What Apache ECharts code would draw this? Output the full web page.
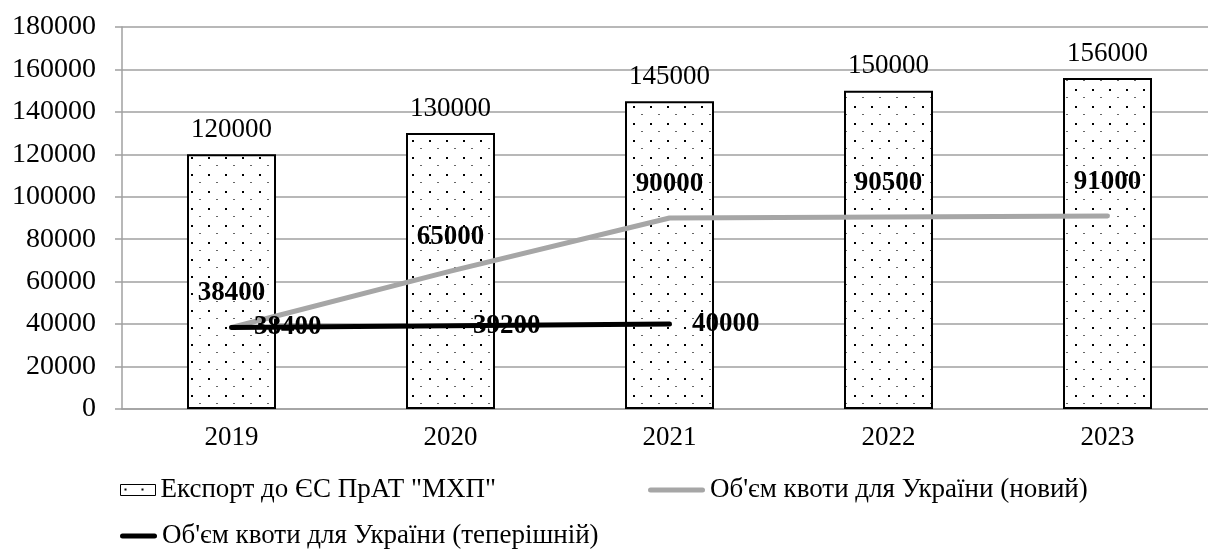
<!DOCTYPE html>
<html>
<head>
<meta charset="utf-8">
<script src="https://cdn.jsdelivr.net/npm/echarts@6/dist/echarts.min.js"></script>
<style>
  html, body { margin: 0; padding: 0; background: #fff; overflow: hidden; }
  /* the plot runs a little past the right edge of the window */
  #chart { width: 1230px; height: 549px; }
</style>
</head>
<body>
<div id="chart"></div>
<script>
// Years on the category axis
const years = ['2019', '2020', '2021', '2022', '2023'];
// Export of MHP to the EU (bars)
const exportEU = [120000, 130000, 145000, 150000, 156000];
// Ukraine quota volume, new proposal (grey line)
const quotaNew = [38400, 65000, 90000, 90500, 91000];
// Ukraine quota volume, current (black line, 2019–2021 only)
const quotaCurrent = [38400, 39200, 40000];
// Value axis
const yMin = 0, yMax = 180000, yStep = 20000;

const seriesNames = [
  'Експорт до ЄС ПрАТ "МХП"',
  "Об'єм квоти для України (новий)",
  "Об'єм квоти для України (теперішній)"
];

const FONT = "'Liberation Serif', 'Times New Roman', serif";
const GRID_GREY = '#a0a0a0';

// Dotted fill used for the bars
function makeDotPattern() {
  const c = document.createElement('canvas');
  c.width = 17; c.height = 17;
  const ctx = c.getContext('2d');
  ctx.fillStyle = '#fff';
  ctx.fillRect(0, 0, 17, 17);
  ctx.fillStyle = '#000';
  ctx.fillRect(4, 4, 2, 2);
  ctx.fillStyle = '#666';
  ctx.fillRect(12, 12, 2, 1);
  return c;
}
const dots = { image: makeDotPattern(), repeat: 'repeat' };

const lineIcon = 'path://M2.5,0 L54.5,0 A2.5,2.5 0 0 1 54.5,5 L2.5,5 A2.5,2.5 0 0 1 2.5,0 Z';
const lineIconShort = 'path://M2.5,0 L34.5,0 A2.5,2.5 0 0 1 34.5,5 L2.5,5 A2.5,2.5 0 0 1 2.5,0 Z';

const legendText = { fontFamily: FONT, fontSize: 27, color: '#000', lineHeight: 30 };

const chart = echarts.init(document.getElementById('chart'), null, { renderer: 'canvas' });
chart.setOption({
  animation: false,
  backgroundColor: '#fff',
  textStyle: { fontFamily: FONT },
  grid: { left: 122, top: 27, width: 1095, height: 382, containLabel: false },
  legend: [
    {
      data: [seriesNames[0]], left: 120, top: 475, padding: 0,
      icon: 'rect', itemWidth: 35, itemHeight: 11,
      itemStyle: { borderColor: '#000', borderWidth: 1 },
      textStyle: legendText
    },
    {
      data: [seriesNames[1]], left: 648, top: 475, padding: 0,
      icon: lineIcon, itemWidth: 57, itemHeight: 5,
      textStyle: legendText
    },
    {
      data: [seriesNames[2]], left: 120, top: 521, padding: 0,
      icon: lineIconShort, itemWidth: 37, itemHeight: 5,
      textStyle: legendText
    }
  ],
  xAxis: {
    type: 'category',
    data: years,
    axisLine: { lineStyle: { color: GRID_GREY, width: 1.5 } },
    axisTick: { length: 6, lineStyle: { color: GRID_GREY, width: 1.5 } },
    axisLabel: { fontFamily: FONT, fontSize: 27, color: '#000', margin: 15 }
  },
  yAxis: {
    type: 'value',
    min: yMin, max: yMax, interval: yStep,
    axisLine: { show: true, lineStyle: { color: GRID_GREY, width: 1.5 } },
    axisTick: { show: true, length: 7, lineStyle: { color: GRID_GREY, width: 1.5 } },
    splitLine: { lineStyle: { color: GRID_GREY, width: 1.5 } },
    axisLabel: {
      fontFamily: FONT, fontSize: 28, color: '#000', margin: 26,
      formatter: v => String(v)
    }
  },
  series: [
    {
      name: seriesNames[0],
      type: 'bar',
      data: exportEU,
      barWidth: 89,
      itemStyle: { color: dots, borderColor: '#000', borderWidth: 2 },
      label: {
        show: true, position: 'top', distance: 11,
        fontFamily: FONT, fontSize: 27, color: '#000'
      },
      z: 2
    },
    {
      name: seriesNames[1],
      type: 'line',
      data: quotaNew,
      symbol: 'circle', symbolSize: 1,
      itemStyle: { color: '#a6a6a6' },
      lineStyle: { color: '#a6a6a6', width: 5, cap: 'round', join: 'round' },
      label: {
        show: true, position: 'top', distance: 20,
        fontFamily: FONT, fontSize: 27, fontWeight: 'bold', color: '#000'
      },
      z: 3
    },
    {
      name: seriesNames[2],
      type: 'line',
      data: quotaCurrent,
      symbol: 'circle', symbolSize: 1,
      itemStyle: { color: '#000' },
      lineStyle: { color: '#000', width: 5, cap: 'round', join: 'round' },
      label: {
        show: true, position: 'right', distance: 22,
        fontFamily: FONT, fontSize: 27, fontWeight: 'bold', color: '#000'
      },
      z: 4
    }
  ]
});
</script>
</body>
</html>
